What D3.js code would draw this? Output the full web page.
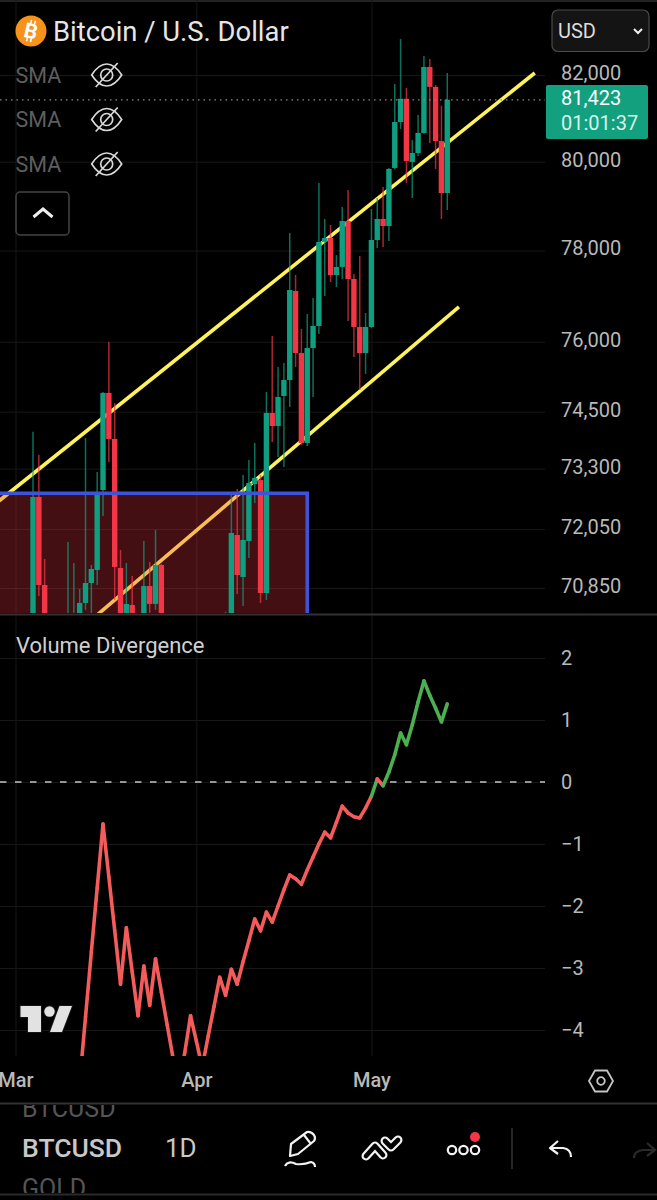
<!DOCTYPE html>
<html>
<head>
<meta charset="utf-8">
<script src="https://cdn.jsdelivr.net/npm/d3@7/dist/d3.min.js"></script>
<style>
html,body{margin:0;padding:0;background:#000;}
svg{display:block;}
text{font-family:Roboto,sans-serif;}
.axis path,.axis line{display:none;}
.axis text{font-family:Roboto,sans-serif;font-size:20px;fill:#b9b9b9;}
.grid path{display:none;}
.grid line{stroke:#171717;stroke-width:1;}
</style>
</head>
<body>
<div id="chart"></div>
<script>
// daily candles, first one is firstCandle days after Mar 1
const firstCandle=3;
const opens=[69900,72711,70911,69950,69600,70000,69700,70200,70250,70549,70951,71215,
  72856,74899,73923,71255,70150,70509,70050,69950,70890,70529,71316,70000,
  69600,69400,69700,69200,69500,69900,69600,69800,70000,69900,70150,71928,
  71073,71806,72980,73063,70749,74472,74196,74834,75176,77106,75755,73839,
  75863,76341,78190,78279,77458,77636,78659,77370,76320,75755,76320,78235,
  78704,78547,79857,80910,81446,79993,80198,80657,82188,81723,80471,79289];
const highs=[74076,73586,71438,70300,70200,70250,71785,71357,70830,73944,71316,73230,
  74920,75994,74685,71621,71357,71093,70250,71806,71377,72030,71340,70200,
  70100,69900,70000,69800,70100,70250,70000,70200,70300,70369,72752,72877,
  73167,73481,73839,73167,74920,76124,75454,75540,78391,77458,76276,76603,
  76953,79516,78704,78569,77900,78974,79358,77480,77878,76625,78929,79176,
  79426,79857,81792,82845,81700,80494,81073,82445,82375,81769,81284,82047];
const lows=[69500,70690,69600,69300,69400,69500,69400,69900,70000,70409,70200,70911,
  72318,73439,70609,69800,69900,69700,69600,69700,70350,70409,69700,69400,
  69100,68800,69000,68900,69200,69300,69100,69500,69600,69700,69900,70729,
  70490,71459,72587,70549,70609,73860,73544,73335,74600,75454,73797,73776,
  74813,76168,76997,77304,77194,77370,76450,75670,74963,75305,76298,78057,
  78079,78212,79834,80749,79516,79176,80129,80640,80425,79834,78704,78906];
const closes=[72711,70911,69950,69600,70000,69700,70200,70300,70549,70951,71235,72815,
  74899,73923,71276,70100,70529,70050,69950,70890,70529,71316,70000,69600,
  69400,69700,69200,69500,69900,69600,69800,70000,70100,70150,71969,71113,
  71826,73001,73105,70749,74472,74196,74813,75176,77128,75755,73839,75863,
  76341,78190,78279,77458,77636,78659,77370,76320,75755,76320,78235,78704,
  78547,79834,80910,81446,80015,80198,80657,82188,81723,80471,79289,81423];

const priceTicks=[82000,80000,78000,76000,74500,73300,72050,70850];
const lastPrice=81423;
const countdown="01:01:37";

// drawings on the price pane: [day offset from Mar 1, price]
const upperChannel=[[-3,72614],[89,82047]];
const lowerChannel=[[14,70309],[76,76756]];
const boxDays=[-20,50];
const boxPrices=[66000,72788];

// volume divergence, first value is firstDiv days after Mar 1
const firstDiv=11;
const divergence=[-4.84,-3.79,-2.74,-1.71,-0.68,-1.53,-2.39,-3.26,-2.35,-3.06,-3.77,-2.97,
  -3.6,-2.85,-3.39,-3.92,-4.45,-4.89,-4.37,-3.77,-4.18,-4.6,-4.11,-3.63,
  -3.15,-3.44,-3.02,-3.26,-2.9,-2.56,-2.21,-2.4,-2.1,-2.26,-2,-1.74,
  -1.5,-1.56,-1.65,-1.42,-1.21,-1,-0.81,-0.9,-0.65,-0.39,-0.5,-0.56,
  -0.58,-0.42,-0.23,0.05,-0.06,0.16,0.44,0.79,0.6,0.92,1.29,1.63,
  1.4,1.19,0.97,1.26];
const divTicks=[2,1,0,-1,-2,-3,-4];
const greenFromDay=61, redDays=[62];   // segments are keyed by their start day

const W=657,H=1200;
const UP="#0f9e80",DOWN="#f23645",YELLOW="#fdf25a",DIVUP="#4caf50",DIVDOWN="#f45b5b";
const paneR=545, priceBottom=614, divBottom=1056;

const day0=Date.UTC(2026,2,1);
const toDate=i=>d3.utcDay.offset(new Date(day0),i);
const xSc=d3.scaleUtc().domain([toDate(0),toDate(75)]).range([15.5,453.1]);
const ySc=d3.scaleLog().domain([70850,82000]).range([588,75]);
const yDiv=d3.scaleLinear().domain([-4,2]).range([1030,658]);

const svg=d3.select("#chart").append("svg").attr("width",W).attr("height",H).attr("viewBox",`0 0 ${W} ${H}`);
const defs=svg.append("defs");
defs.append("clipPath").attr("id","clipPrice").append("rect").attr("x",0).attr("y",0).attr("width",paneR).attr("height",priceBottom-1);
defs.append("clipPath").attr("id","clipDiv").append("rect").attr("x",0).attr("y",priceBottom).attr("width",paneR).attr("height",divBottom-priceBottom);
defs.append("clipPath").attr("id","clipList").append("rect").attr("x",0).attr("y",1105).attr("width",W).attr("height",88);

svg.append("rect").attr("width",W).attr("height",H).attr("fill","#000");
svg.append("rect").attr("width",W).attr("height",2).attr("fill","#222");

// Grid
const months=[toDate(0),toDate(31),toDate(61)];
svg.append("g").attr("class","grid").call(d3.axisLeft(ySc).tickValues(priceTicks).tickSize(-paneR).tickFormat(""));
svg.append("g").attr("class","grid").call(d3.axisLeft(yDiv).tickValues(divTicks).tickSize(-paneR).tickFormat(""));
svg.append("g").attr("class","grid").attr("transform",`translate(0,${priceBottom})`)
  .call(d3.axisTop(xSc).tickValues(months).tickSize(priceBottom).tickFormat(""));
svg.append("g").attr("class","grid").attr("transform",`translate(0,${divBottom})`)
  .call(d3.axisTop(xSc).tickValues(months).tickSize(divBottom-priceBottom).tickFormat(""));

// Price pane
const price=svg.append("g").attr("clip-path","url(#clipPrice)");
const chanLine=d3.line().x(d=>xSc(toDate(d[0]))).y(d=>ySc(d[1]));
[upperChannel,lowerChannel].forEach(c=>{
  price.append("path").attr("d",chanLine(c)).attr("fill","none").attr("stroke",YELLOW).attr("stroke-width",3.6);
});

// box sits over the lines, so they turn orange inside it
const bx=xSc(toDate(boxDays[0])),bx2=xSc(toDate(boxDays[1])),by=ySc(boxPrices[1]),by2=ySc(boxPrices[0]);
price.append("rect").attr("x",bx).attr("y",by).attr("width",bx2-bx).attr("height",by2-by)
  .attr("fill","rgba(242,54,69,0.28)");

const candles=opens.map((o,k)=>({i:k+firstCandle,o,h:highs[k],l:lows[k],c:closes[k]}));
const col=d=>d.c>=d.o?UP:DOWN;
const cx=d=>xSc(toDate(d.i));
price.selectAll(".wick").data(candles).join("line").attr("class","wick")
  .attr("x1",cx).attr("x2",cx).attr("y1",d=>ySc(d.h)).attr("y2",d=>ySc(d.l))
  .attr("stroke",col).attr("stroke-width",1.5).attr("stroke-opacity",0.7);
price.selectAll(".body").data(candles).join("rect").attr("class","body")
  .attr("x",d=>cx(d)-2.7).attr("width",5.4)
  .attr("y",d=>ySc(Math.max(d.o,d.c))).attr("height",d=>Math.max(1,ySc(Math.min(d.o,d.c))-ySc(Math.max(d.o,d.c))))
  .attr("fill",col);

// box outline
price.append("rect").attr("x",bx).attr("y",by).attr("width",bx2-bx).attr("height",by2-by)
  .attr("fill","none").attr("stroke","#3d53d9").attr("stroke-width",3.6);

// Last price line
svg.append("line").attr("x1",0).attr("x2",paneR).attr("y1",ySc(lastPrice)).attr("y2",ySc(lastPrice))
  .attr("stroke","#8a8a8a").attr("stroke-width",1.2).attr("stroke-dasharray","1.5,4");

// Price axis
const yAxis=svg.append("g").attr("class","axis").attr("transform","translate(561,0)")
  .call(d3.axisRight(ySc).tickValues(priceTicks).tickSize(0).tickPadding(0).tickFormat(d3.format(",")));
yAxis.selectAll("text").attr("y",-2);

svg.append("rect").attr("x",546).attr("y",85).attr("width",102).attr("height",54).attr("rx",2).attr("fill","#12a07f");
svg.append("text").attr("x",561).attr("y",105).attr("font-size",20).attr("fill","#fff").text(d3.format(",")(lastPrice));
svg.append("text").attr("x",561).attr("y",130).attr("font-size",20).attr("fill","#d5f3ea").text(countdown);

// Pane separators
svg.append("rect").attr("x",0).attr("y",613.5).attr("width",W).attr("height",2).attr("fill","#333");
svg.append("rect").attr("x",0).attr("y",1102.5).attr("width",W).attr("height",2).attr("fill","#333");
svg.append("rect").attr("x",0).attr("y",1193.5).attr("width",W).attr("height",2).attr("fill","#2a2a2a");

// Divergence pane
svg.append("text").attr("x",16).attr("y",652.5).attr("font-size",22).attr("fill","#d0d0d0").text("Volume Divergence");
svg.append("line").attr("x1",0).attr("x2",paneR).attr("y1",yDiv(0)).attr("y2",yDiv(0))
  .attr("stroke","#c4c4c4").attr("stroke-width",1.3).attr("stroke-dasharray","6.5,8.5");

const divPts=divergence.map((v,k)=>({i:k+firstDiv,v}));
const segs=d3.pairs(divPts);
const divLine=d3.line().x(d=>xSc(toDate(d.i))).y(d=>yDiv(d.v));
const divG=svg.append("g").attr("clip-path","url(#clipDiv)");
divG.selectAll("path").data(segs).join("path")
  .attr("d",divLine).attr("fill","none").attr("stroke-width",3.6).attr("stroke-linecap","round")
  .attr("stroke",s=>(s[0].i>=greenFromDay && !redDays.includes(s[0].i))?DIVUP:DIVDOWN);

const dAxis=svg.append("g").attr("class","axis").attr("transform","translate(561,0)")
  .call(d3.axisRight(yDiv).tickValues(divTicks).tickSize(0).tickPadding(0).tickFormat(d3.format("d")));
dAxis.selectAll("text").attr("y",0);

// Time axis
const xAxis=svg.append("g").attr("class","axis").attr("transform","translate(0,1073)")
  .call(d3.axisBottom(xSc).tickValues(months).tickSize(0).tickPadding(0).tickFormat(d3.utcFormat("%b")));
xAxis.selectAll("text").style("font-weight",500);

// TradingView mark
const logo=svg.append("g").attr("fill","#e2e2e2").attr("stroke","#161616").attr("stroke-width",2).attr("paint-order","stroke");
logo.append("path").attr("d","M20.5 1006H41V1032H28V1017H20.5Z");
logo.append("circle").attr("cx",49.5).attr("cy",1011.5).attr("r",5.2);
logo.append("path").attr("d","M59.5 1006H72L62 1032H50Z");

// Header
const hdr=svg.append("g");
hdr.append("circle").attr("cx",31).attr("cy",31).attr("r",15.5).attr("fill","#f7931a");
hdr.append("g").attr("transform","translate(31,31) rotate(13)").call(g=>{
  g.append("text").attr("text-anchor","middle").attr("y",7.5).attr("font-size",21).attr("font-weight",700).attr("fill","#fff").text("B");
  g.append("path").attr("d","M-2 -11V-7M2 -11V-7M-2 7V11M2 7V11").attr("stroke","#fff").attr("stroke-width",1.6);
});
hdr.append("text").attr("x",53).attr("y",40.5).attr("font-size",27.4).attr("fill","#e6e6e6").text("Bitcoin / U.S. Dollar");

[75,119.5,164].forEach(y=>{
  hdr.append("text").attr("x",15.5).attr("y",y+7.5).attr("font-size",21.5).attr("fill","#5e5e5e").text("SMA");
  const e=hdr.append("g").attr("transform",`translate(106.7,${y})`).attr("fill","none").attr("stroke","#d8d8d8").attr("stroke-width",1.7);
  e.append("path").attr("d","M-15 0Q-8 -11 0 -11Q8 -11 15 0Q8 11 0 11Q-8 11 -15 0Z");
  e.append("circle").attr("r",6);
  e.append("path").attr("d","M-11 12L11 -12");
});
hdr.append("rect").attr("x",16).attr("y",192).attr("width",53).attr("height",43).attr("rx",4)
  .attr("fill","none").attr("stroke","#444").attr("stroke-width",1.5);
hdr.append("path").attr("d","M33.5 217L43 209L52.5 217").attr("fill","none").attr("stroke","#eee").attr("stroke-width",3);

// Currency selector
hdr.append("rect").attr("x",552).attr("y",10).attr("width",97).attr("height",41.5).attr("rx",6)
  .attr("fill","#141414").attr("stroke","#4a4a4a").attr("stroke-width",1.2);
hdr.append("text").attr("x",558).attr("y",38).attr("font-size",20).attr("fill","#ddd").text("USD");
hdr.append("path").attr("d","M634 29L638 33L642 29").attr("fill","none").attr("stroke","#eee").attr("stroke-width",2);

// Settings hexagon
const hex=svg.append("g").attr("transform","translate(601,1081)").attr("fill","none").attr("stroke","#c4c4c4").attr("stroke-width",1.8);
hex.append("path").attr("d","M-12 0L-6 -10.5H6L12 0L6 10.5H-6Z");
hex.append("circle").attr("r",3.8);

// Bottom toolbar
const bar=svg.append("g");
const list=bar.append("g").attr("clip-path","url(#clipList)");
list.append("text").attr("x",22).attr("y",1117).attr("font-size",25).attr("fill","#555").text("BTCUSD");
list.append("text").attr("x",22).attr("y",1197).attr("font-size",25).attr("fill","#555").text("GOLD");
bar.append("text").attr("x",22).attr("y",1157).attr("font-size",26.5).attr("font-weight",500).attr("fill","#c8c8c8").text("BTCUSD");
bar.append("text").attr("x",165).attr("y",1157).attr("font-size",26).attr("fill","#c8c8c8").text("1D");

const tools=bar.append("g").attr("fill","none").attr("stroke","#f2f2f2").attr("stroke-width",2.2).attr("stroke-linejoin","round");
tools.append("path").attr("d","M290 1156L291 1144L307 1132Q311 1131 314 1135Q316 1138 314 1141L298 1154Z M304 1135L311 1144");
tools.append("path").attr("d","M285 1166Q288 1160 296 1164Q304 1165 311 1162Q315 1163 315 1167");
// two outlined chevrons: thick white stroke with a black core
[["M366 1156L375 1146L383 1155",9],["M385 1141L391 1147L398 1140",9]].forEach(c=>{
  bar.append("path").attr("d",c[0]).attr("fill","none").attr("stroke","#f2f2f2").attr("stroke-width",c[1]).attr("stroke-linejoin","round").attr("stroke-linecap","round");
  bar.append("path").attr("d",c[0]).attr("fill","none").attr("stroke","#000").attr("stroke-width",c[1]-4.4).attr("stroke-linejoin","round").attr("stroke-linecap","round");
});
[452,463.5,475].forEach(x=>tools.append("circle").attr("cx",x).attr("cy",1150).attr("r",4.2));
bar.append("circle").attr("cx",475).attr("cy",1137).attr("r",5).attr("fill",DOWN);
bar.append("line").attr("x1",512).attr("x2",512).attr("y1",1128).attr("y2",1169).attr("stroke","#333").attr("stroke-width",1.5);
tools.append("path").attr("d","M558 1141L550 1148L558 1154M550 1148H563Q571 1149 571 1157");
bar.append("path").attr("d","M647 1143L655 1150L647 1156M655 1150H643Q634 1151 634 1158").attr("fill","none").attr("stroke","#2a2a2a").attr("stroke-width",2.2);
</script>
</body>
</html>
